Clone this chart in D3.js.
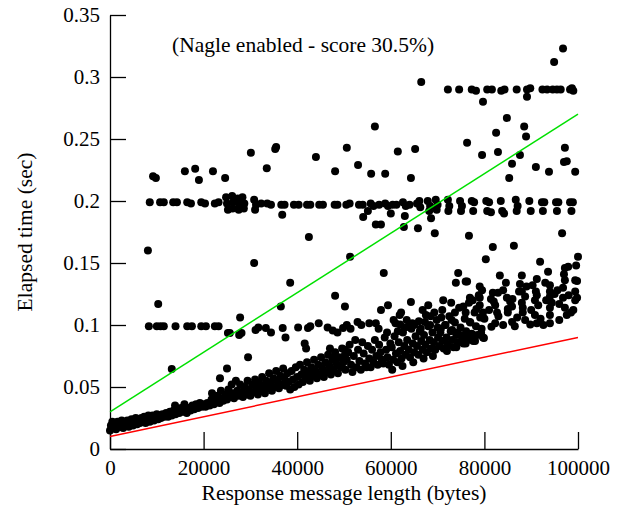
<!DOCTYPE html>
<html lang="en">
<head>
<meta charset="UTF-8">
<title>Nagle enabled - score 30.5%</title>
<style>
  body { margin: 0; background: #fff; }
  svg text { font-family: "Liberation Serif", "DejaVu Serif", serif; fill: #000; }
</style>
</head>
<body>
<div id="chart"></div>
<script src="https://d3js.org/d3.v7.min.js"></script>
<script>
// axis ticks
const xTicks = [0, 20000, 40000, 60000, 80000, 100000];
const yTicks = [0, 0.05, 0.1, 0.15, 0.2, 0.25, 0.3, 0.35];
const yTickLabels = ["0", "0.05", "0.1", "0.15", "0.2", "0.25", "0.3", "0.35"];

// reference lines [bytes, sec]
const greenLine = [[0, 0.03], [100000, 0.27]];
const redLine = [[0, 0.01], [100000, 0.09]];

// horizontal band near 0.2 s
const band200 = [
  [8500,0.199],[10700,0.199],[11500,0.199],[13500,0.199],[14300,0.199],[16500,0.199],[17300,0.198],
  [19500,0.199],[20300,0.198],[22400,0.198],[23200,0.199],
  [24800,0.203],[25000,0.198],[25200,0.193],[26100,0.204],[26300,0.199],[26200,0.194],
  [27300,0.202],[27600,0.197],[27500,0.193],[28300,0.203],[28700,0.198],[28600,0.194],
  [30800,0.201],[31200,0.197],[31000,0.193],[32300,0.198],[33600,0.198],[34400,0.197],[36600,0.197],
  [37300,0.197],[39300,0.197],[40300,0.197],[42100,0.197],[42800,0.197],[44700,0.197],[45500,0.197],
  [48000,0.197],[48600,0.197],[50500,0.197],[51200,0.198],[53200,0.197],[54000,0.197],[55700,0.198],
  [56300,0.196],[57500,0.197],[58800,0.198],[59400,0.196],[60400,0.197],[61200,0.197],[62600,0.199],
  [63200,0.196],[64000,0.197],[65600,0.198],[66100,0.2],[66300,0.195],[67900,0.2],[68400,0.196],
  [68200,0.192],[69600,0.201],[70000,0.197],[69800,0.193],[72200,0.201],[72500,0.196],[72300,0.192],
  [74800,0.2],[75200,0.196],[75000,0.192],[77300,0.2],[77800,0.199],[77600,0.192],[80400,0.2],
  [81000,0.199],[80600,0.192],[81400,0.191],[83500,0.2],[83800,0.192],[84200,0.19],[86700,0.201],
  [87100,0.196],[86900,0.192],[89600,0.2],[89900,0.192],[92300,0.199],[92800,0.199],[92500,0.192],
  [95300,0.199],[95800,0.199],[95500,0.192],[98300,0.199],[98900,0.199],[98600,0.192]
];

// horizontal band near 0.29 s
const band290 = [
  [72200,0.29],[74600,0.29],[77300,0.29],[78200,0.289],[80600,0.29],[81600,0.29],[83600,0.289],
  [84300,0.29],[86900,0.29],[89100,0.29],[89800,0.291],[92400,0.29],[93400,0.29],[94600,0.29],
  [95500,0.29],[96300,0.29],[98300,0.29],[99000,0.289],[98700,0.291]
];

// horizontal band near 0.1 s
const band100 = [
  [8300,0.099],[10000,0.099],[10800,0.099],[11500,0.099],[14000,0.099],[16500,0.099],[17500,0.099],
  [19500,0.099],[20500,0.099],[22400,0.099],[23200,0.099],[25200,0.0935],[25600,0.0935],[27600,0.092],
  [28100,0.0935],[31100,0.096],[31700,0.098],[33300,0.0975],[34400,0.094],[36900,0.0975],[37500,0.09],
  [40200,0.098],[42300,0.0975],[42800,0.099],[44600,0.1015],[46500,0.098],[47600,0.0955],[48600,0.094],
  [49800,0.0975],[50600,0.1],[51400,0.097],[52900,0.1025],[53700,0.1],[55400,0.1015],[56800,0.1015],
  [57400,0.097],[59200,0.094],[61000,0.1015],[62000,0.1005],[63700,0.0985],[64600,0.1015],[66400,0.097],
  [67300,0.1025],[68400,0.1],[70000,0.098],[70600,0.094],[71700,0.1],[73100,0.096],[74200,0.094],
  [74800,0.092],[75900,0.09],[76500,0.092],[77500,0.0895],[79300,0.0935],[79900,0.0895],
  [81500,0.0985],[84000,0.1],[86500,0.099],[89800,0.1005],[92600,0.1],[96000,0.104],[98500,0.11]
];

// main cluster rising with message length
const mainCluster = [
  [0,0.015],[200,0.019],[500,0.022],[700,0.017],[1000,0.02],[1300,0.016],[1600,0.022],[1900,0.018],
  [2200,0.02],[2500,0.023],[2800,0.017],[3100,0.021],[3400,0.019],[3700,0.023],[4000,0.018],[4300,0.021],
  [4600,0.024],[4900,0.019],[5200,0.022],[5500,0.025],[5800,0.02],[6100,0.023],[6400,0.021],[6700,0.025],
  [7000,0.022],[7300,0.026],[7600,0.021],[7900,0.024],[8200,0.027],[8500,0.022],[8800,0.025],[9100,0.027],
  [9400,0.023],[9700,0.026],[10000,0.028],
  [10300,0.024],[10600,0.027],[10900,0.025],[11200,0.028],[11600,0.026],[12000,0.029],[12400,0.026],
  [12800,0.03],[13200,0.027],[13600,0.031],[13900,0.035],[14000,0.028],[14400,0.031],[14800,0.029],
  [15200,0.033],[15600,0.03],[15900,0.036],[16000,0.032],[16400,0.029],[16800,0.033],[17200,0.031],
  [17600,0.035],[18000,0.032],[18400,0.036],[18800,0.033],[19200,0.037],[19600,0.034],[20000,0.036],
  [20400,0.034],[20800,0.037],[21300,0.035],[21700,0.04],[21800,0.045],[22200,0.036],[22600,0.038],
  [23000,0.043],[23400,0.037],[23500,0.057],[23700,0.047],[23900,0.041],[24200,0.039],[24700,0.044],
  [25000,0.065],[25000,0.04],[25300,0.048],[25600,0.042],[26000,0.052],[26200,0.045],[26500,0.041],
  [26900,0.055],[27200,0.047],[27500,0.043],[27800,0.052],[28100,0.046],[28400,0.042],[28800,0.05],
  [29100,0.044],[29400,0.055],[29700,0.048],[30000,0.043],
  [30400,0.052],[30700,0.046],[31000,0.056],[31300,0.049],[31600,0.044],[31900,0.053],[32200,0.047],
  [32500,0.058],[32800,0.051],[33100,0.045],[33400,0.055],[33700,0.049],[34000,0.061],[34300,0.053],
  [34600,0.047],[34900,0.057],[35200,0.05],[35500,0.063],[35800,0.055],[36100,0.049],[36400,0.059],
  [36700,0.052],[37000,0.065],[37300,0.057],[37600,0.051],[37900,0.061],[38200,0.054],[38500,0.048],
  [38800,0.063],[39100,0.056],[39400,0.05],[39700,0.066],[40000,0.058],
  [40300,0.052],[40600,0.068],[40900,0.06],[41200,0.054],[41500,0.064],[41600,0.085],[41900,0.081],
  [41800,0.057],[42100,0.07],[42400,0.061],[42700,0.055],[43000,0.066],[43300,0.059],[43600,0.072],
  [43900,0.063],[44200,0.057],[44500,0.068],[44800,0.06],[45100,0.074],[45400,0.065],[45700,0.058],
  [46000,0.07],[46300,0.062],[46600,0.076],[46900,0.067],[47000,0.081],[47200,0.06],[47500,0.072],
  [47800,0.064],[47900,0.074],[48100,0.078],[48400,0.069],[48700,0.061],[49000,0.074],[49300,0.066],
  [49600,0.081],[49900,0.07],[50200,0.08],[50200,0.076],
  [50300,0.064],[50600,0.072],[50900,0.078],[51200,0.084],[51500,0.068],[51800,0.062],[52100,0.075],
  [52400,0.088],[52700,0.066],[53000,0.08],[53300,0.071],[53600,0.064],[53900,0.086],[54200,0.077],
  [54500,0.069],[54800,0.066],[55100,0.083],[55400,0.073],[55700,0.066],[56000,0.08],[56300,0.07],
  [56600,0.088],[56900,0.075],[57200,0.068],[57500,0.084],[57800,0.078],[58100,0.072],[58400,0.069],
  [58700,0.09],[59000,0.08],[59300,0.074],[59600,0.068],[59900,0.085],
  [60200,0.082],[60300,0.064],[60500,0.072],[60600,0.104],[60800,0.091],[61100,0.077],[61400,0.07],
  [61500,0.095],[61700,0.086],[61900,0.108],[62000,0.079],[62300,0.073],[62500,0.067],[62600,0.094],
  [62900,0.083],[63000,0.098],[63200,0.076],[63400,0.104],[63500,0.088],[63800,0.08],[64100,0.074],
  [64400,0.097],[64700,0.085],[64800,0.07],[65000,0.078],[65000,0.1],[65300,0.091],[65600,0.083],
  [65900,0.076],[66000,0.103],[66200,0.095],[66500,0.087],[66800,0.08],[66800,0.112],[67000,0.073],
  [67100,0.092],[67400,0.084],[67700,0.078],[68000,0.099],[68300,0.088],[68500,0.107],[68600,0.081],
  [68900,0.094],[69000,0.075],[69200,0.086],[69300,0.11],[69500,0.08],[69800,0.104],
  [70100,0.09],[70400,0.083],[70700,0.097],[70800,0.106],[71000,0.087],[71000,0.112],[71300,0.081],
  [71600,0.1],[71900,0.09],[72000,0.079],[72200,0.084],[72500,0.107],[72800,0.095],[73000,0.104],
  [73100,0.088],[73400,0.082],[73700,0.102],[74000,0.092],[74000,0.082],[74300,0.086],[74600,0.114],
  [74900,0.098],[75200,0.091],[75500,0.115],[75500,0.085],[75800,0.105],[76000,0.085],[76100,0.095],
  [76400,0.088],[76700,0.118],[77000,0.102],[77300,0.093],[77500,0.12],[77600,0.087],[77900,0.11],
  [78000,0.087],[78200,0.099],[78300,0.113],[78500,0.092],[78800,0.124],[79100,0.106],[79400,0.097],
  [79700,0.09],
  [76900,0.122],[79000,0.131],[79500,0.128],[79000,0.122],[79000,0.116],[79700,0.11],[76900,0.1025],
  [79700,0.106],[81800,0.126],[82900,0.126],[84800,0.122],[88700,0.123],[90800,0.12],[94000,0.123],
  [94400,0.118],[96800,0.122],[99400,0.12],[82300,0.116],[85500,0.119],[85900,0.115],[88200,0.114],
  [91500,0.116],[97200,0.114],[82700,0.11],[85000,0.11],[88200,0.11],[90800,0.108],[94000,0.108],
  [97600,0.108],[82300,0.1015],[85900,0.1025],[88700,0.104],[91200,0.1015],[94000,0.1015],
  [83300,0.14],[88000,0.14],[91200,0.137],[87600,0.133],[94000,0.132],[97200,0.136],[99400,0.136],
  [88000,0.127],[91200,0.124],[94000,0.127],[96800,0.13],[99400,0.127],[80300,0.153],[91900,0.151],
  [100000,0.155],[97200,0.146],[97900,0.147],[93600,0.143],[76300,0.135],[99800,0.1355],[99800,0.122],
  [80000,0.105],[81000,0.112],[81400,0.121],[82000,0.119],[83000,0.107],[84000,0.128],[84600,0.134],
  [85000,0.113],[86000,0.121],[87000,0.106],[87400,0.127],[88000,0.118],[89000,0.131],[90000,0.112],
  [90300,0.132],[91000,0.127],[92000,0.105],[93000,0.134],[93200,0.12],[94000,0.114],[95000,0.125],
  [95600,0.128],[96000,0.117],[97000,0.141],[98000,0.124],[99000,0.112],[99600,0.148]
];

// scattered points away from the bands
const outliers = [
  [8100,0.16],[10300,0.117],[13200,0.0645],[29500,0.074],[27800,0.106],[30800,0.15],[36500,0.115],
  [38500,0.134],[48100,0.1235],[50200,0.115],[51300,0.155],[57900,0.112],[59400,0.116],[58500,0.142],
  [62200,0.11],[64300,0.1185],[67500,0.108],[68000,0.116],[71200,0.12],[72900,0.118],[73700,0.11],
  [76000,0.11],[74400,0.142],[73900,0.134],[76000,0.135],
  [36800,0.189],[42500,0.171],[54100,0.187],[55100,0.192],[56800,0.181],[57900,0.181],[60000,0.19],
  [63000,0.188],[62800,0.179],[65800,0.178],[69400,0.174],[68600,0.186],[76700,0.172],[81800,0.163],
  [86300,0.164],[96600,0.174],
  [9200,0.22],[9800,0.2185],[16000,0.224],[18200,0.226],[19000,0.217],[22000,0.224],[24600,0.2185],
  [30100,0.239],[35500,0.2435],[35300,0.242],[33500,0.2265],[44000,0.2355],[48100,0.224],[50600,0.243],
  [53000,0.229],[55800,0.222],[56600,0.26],[58800,0.222],[61500,0.24],[64300,0.2185],[65200,0.242],
  [66500,0.296],[76300,0.247],[79500,0.237],[82900,0.2395],[82500,0.255],[84800,0.267],[88500,0.26],
  [88900,0.252],[87600,0.237],[85900,0.23],[85300,0.2185],[91000,0.2275],[93800,0.2235],[97200,0.243],
  [97000,0.2315],[97600,0.232],[99400,0.2235],[94900,0.312],[96800,0.323],[79700,0.28],[89100,0.284]
];

const width = 623, height = 508;
const margin = { top: 15, right: 45, bottom: 59, left: 110 };

const svg = d3.select("#chart").append("svg")
  .attr("width", width)
  .attr("height", height);

const x = d3.scaleLinear().domain([0, 100000]).range([margin.left, width - margin.right]);
const y = d3.scaleLinear().domain([0, 0.35]).range([height - margin.bottom, margin.top]);

// axes, ticks pointing inward
const xAxis = svg.append("g")
  .attr("transform", `translate(0,${height - margin.bottom})`)
  .call(d3.axisBottom(x).tickValues(xTicks).tickSize(-17).tickSizeOuter(0).tickPadding(11).tickFormat(d3.format("d")));

const yAxis = svg.append("g")
  .attr("transform", `translate(${margin.left},0)`)
  .call(d3.axisLeft(y).tickValues(yTicks).tickSize(-16).tickSizeOuter(0).tickPadding(10)
    .tickFormat((d, i) => yTickLabels[i]));

[xAxis, yAxis].forEach(g => {
  g.attr("font-family", null);
  g.selectAll("path, line").attr("stroke", "#000").attr("stroke-width", 1.3);
  g.selectAll("text").attr("font-size", 21).style("font-family", "'Liberation Serif', serif").attr("fill", "#000");
});

// points
const allPoints = [].concat(band200, band290, band100, mainCluster, outliers);
svg.append("g")
  .selectAll("circle")
  .data(allPoints)
  .enter().append("circle")
  .attr("cx", d => x(d[0]))
  .attr("cy", d => y(d[1]))
  .attr("r", 4)
  .attr("fill", "#000");

// reference lines
const line = d3.line().x(d => x(d[0])).y(d => y(d[1]));
svg.append("path").datum(greenLine).attr("d", line)
  .attr("fill", "none").attr("stroke", "#00e000").attr("stroke-width", 1.5);
svg.append("path").datum(redLine).attr("d", line)
  .attr("fill", "none").attr("stroke", "#ff0000").attr("stroke-width", 1.5);

// labels
svg.append("text")
  .attr("x", 172).attr("y", 52)
  .attr("font-size", 21.5)
  .text("(Nagle enabled - score 30.5%)");

svg.append("text")
  .attr("x", (margin.left + width - margin.right) / 2).attr("y", 500)
  .attr("text-anchor", "middle")
  .attr("font-size", 21.5)
  .text("Response message length (bytes)");

svg.append("text")
  .attr("transform", "translate(32,232) rotate(-90)")
  .attr("text-anchor", "middle")
  .attr("font-size", 21.5)
  .text("Elapsed time (sec)");
</script>
</body>
</html>
